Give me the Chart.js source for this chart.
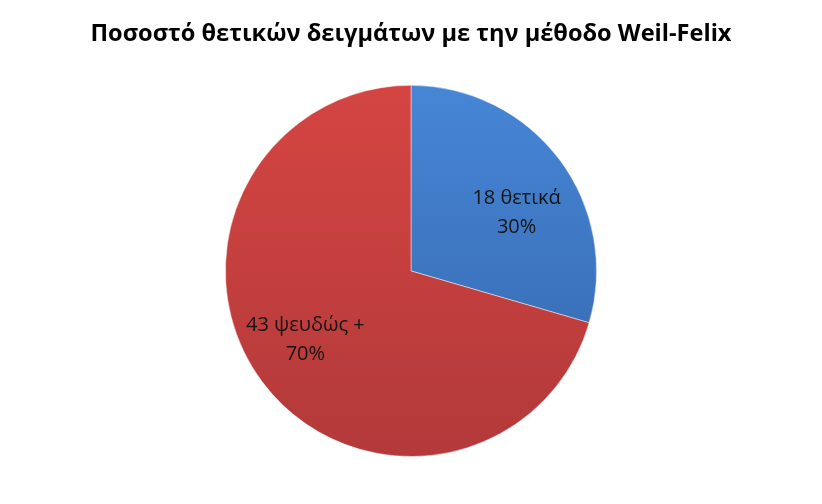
<!DOCTYPE html>
<html>
<head>
<meta charset="utf-8">
<script src="https://cdn.jsdelivr.net/npm/chart.js@4"></script>
<style>
  html, body { margin: 0; padding: 0; background: #fff; }
  #wrap { width: 822px; height: 504px; }
</style>
</head>
<body>
<div id="wrap"><canvas id="pieChart"></canvas></div>
<script>
// chart data
const chartTitle = 'Ποσοστό θετικών δειγμάτων με την μέθοδο Weil-Felix';
const categories = ['18 θετικά', '43 ψευδώς +'];
const counts = [18, 43];
const percentLabels = ['30%', '70%'];
const sliceColors = [['#4686d6', '#3565ab'], ['#d44542', '#b3393a']];

// vertical gradient per slice, like the office style fill
const gradientFill = (ctx) => {
    const chart = ctx.chart;
    const area = chart.chartArea;
    if (!area) return sliceColors[ctx.dataIndex][0];
    const g = chart.ctx.createLinearGradient(0, area.top, 0, area.bottom);
    g.addColorStop(0, sliceColors[ctx.dataIndex][0]);
    g.addColorStop(1, sliceColors[ctx.dataIndex][1]);
    return g;
};

// labels inside slices, placed from the arc elements (best-fit leans a bit clockwise)
const sliceLabels = {
    id: 'sliceLabels',
    afterDatasetsDraw(chart) {
        const ctx = chart.ctx;
        const meta = chart.getDatasetMeta(0);
        ctx.save();
        ctx.font = '20px "Open Sans", sans-serif';
        ctx.fillStyle = '#151515';
        ctx.textAlign = 'center';
        ctx.textBaseline = 'middle';
        meta.data.forEach((arc, i) => {
            const p = arc.getProps(['x', 'y', 'startAngle', 'endAngle', 'outerRadius'], true);
            const mid = (p.startAngle + p.endAngle) / 2 + 0.1;
            const r = p.outerRadius * 0.665;
            const x = p.x + Math.cos(mid) * r;
            const y = p.y + Math.sin(mid) * r + 5;
            ctx.fillText(categories[i], x, y - 14);
            ctx.fillText(percentLabels[i], x, y + 15);
        });
        ctx.restore();
    }
};

new Chart(document.getElementById('pieChart'), {
    type: 'pie',
    data: {
        labels: categories,
        datasets: [{
            data: counts,
            backgroundColor: gradientFill,
            borderColor: 'rgba(255,255,255,0.45)',
            borderWidth: 1
        }]
    },
    options: {
        responsive: true,
        maintainAspectRatio: false,
        animation: false,
        layout: { padding: { top: 0, bottom: 47, left: 0, right: 0 } },
        plugins: {
            legend: { display: false },
            tooltip: { enabled: false },
            title: {
                display: true,
                text: chartTitle,
                color: '#000',
                font: { family: '"Open Sans", sans-serif', size: 23.6, weight: 'bold', lineHeight: 1.2 },
                padding: { top: 20, bottom: 36.5 }
            }
        }
    },
    plugins: [sliceLabels]
});
</script>
</body>
</html>
